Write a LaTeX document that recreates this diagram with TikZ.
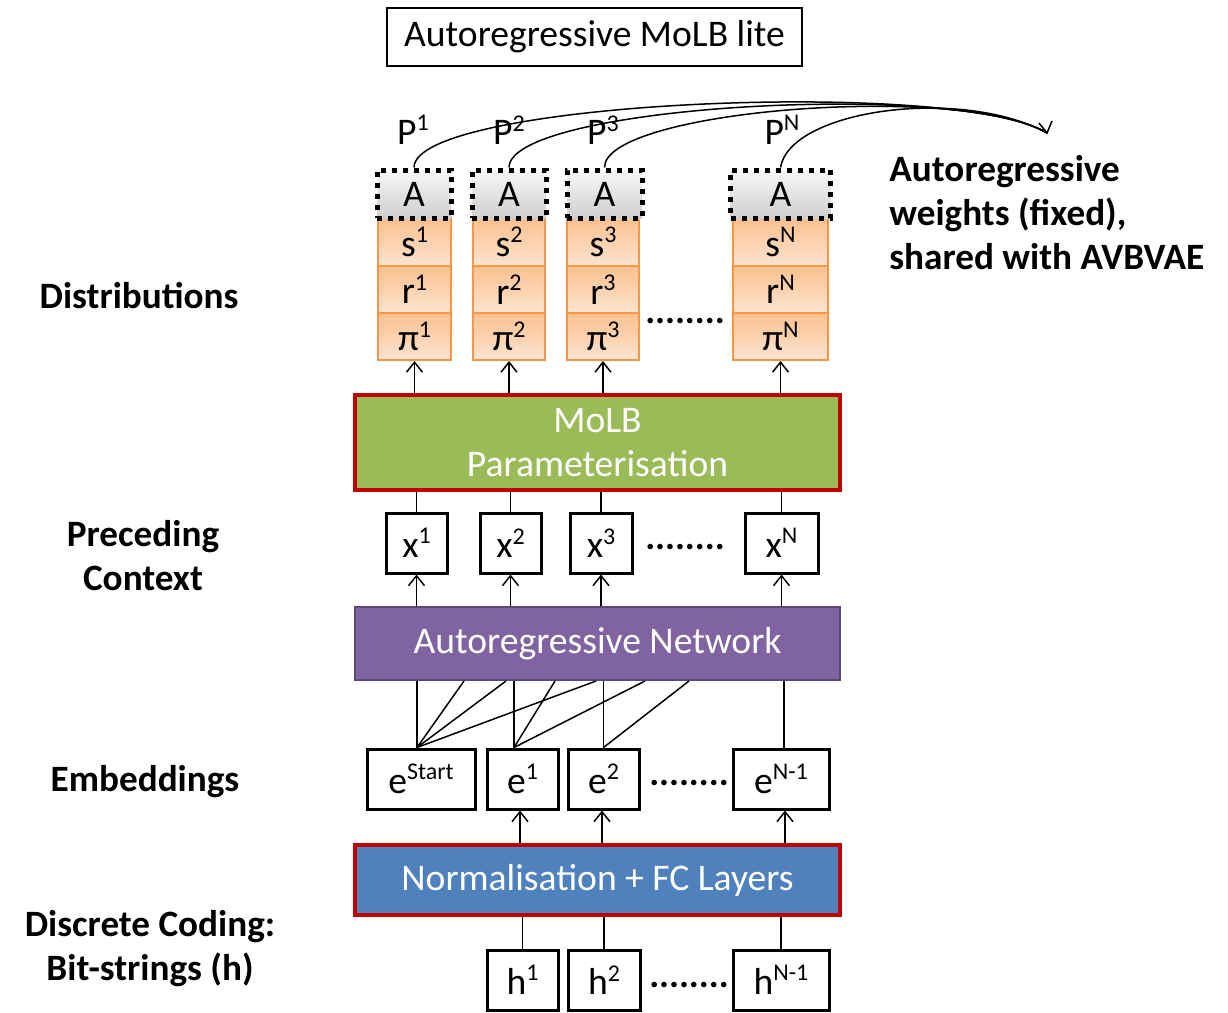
\documentclass[tikz,border=0pt]{standalone}
\usepackage{fontspec}
\setmainfont{Carlito}
\usetikzlibrary{arrows.meta,calc}
\newcommand\sps[1]{\raisebox{0.36em}{\fontsize{12}{12}\selectfont #1}}
\definecolor{orB}{HTML}{F79646}
\definecolor{orTop}{HTML}{FAC08F}
\definecolor{orBot}{HTML}{FDE4D0}
\definecolor{molbG}{HTML}{9BBB59}
\definecolor{redB}{HTML}{C00000}
\definecolor{purp}{HTML}{8064A2}
\definecolor{purpB}{HTML}{5C4776}
\definecolor{blueF}{HTML}{4F81BD}
\tikzset{
  every node/.style={font=\fontsize{18.8}{22}\selectfont, inner sep=0pt},
  titlebox/.style={draw, line width=0.75pt, minimum width=207.5pt, minimum height=29pt},
  wbox/.style={draw, line width=1.5pt, fill=white, minimum height=30pt},
  dist/.style={draw=orB, line width=1pt, top color=orTop, bottom color=orBot},
  abox/.style={draw, line width=2.5pt, dash pattern=on 2.5pt off 3pt, top color=gray!6, bottom color=gray!38, minimum height=24pt},
  bigbox/.style={minimum width=242.5pt, text=white, align=center},
  arr/.style={line width=0.75pt, -{Straight Barb[length=5pt,width=8pt]}},
  ln/.style={line width=0.75pt},
  lab/.style={font=\fontsize{18.6}{22}\selectfont\bfseries, align=center},
  dots/.style={font=\fontsize{18.6}{22}\selectfont\bfseries}
}
\begin{document}
\begin{tikzpicture}[x=0.5pt,y=-0.5pt]
\useasboundingbox (0,0) rectangle (1228,1013);
% title
\node[titlebox] (title) at (594.5,37) {Autoregressive MoLB lite};
% distribution boxes
\node[dist, minimum width=36.5pt, minimum height=24pt] (s1) at (414.5,242) {s\sps{1}};
\node[dist, minimum width=36.5pt, minimum height=23.5pt] (r1) at (414.5,289.5) {r\sps{1}};
\node[dist, minimum width=36.5pt, minimum height=23.5pt] (pi1) at (414.5,336.5) {π\sps{1}};
\node[dist, minimum width=36pt, minimum height=24pt] (s2) at (509,242) {s\sps{2}};
\node[dist, minimum width=36pt, minimum height=23.5pt] (r2) at (509,289.5) {r\sps{2}};
\node[dist, minimum width=36pt, minimum height=23.5pt] (pi2) at (509,336.5) {π\sps{2}};
\node[dist, minimum width=36pt, minimum height=24pt] (s3) at (603,242) {s\sps{3}};
\node[dist, minimum width=36pt, minimum height=23.5pt] (r3) at (603,289.5) {r\sps{3}};
\node[dist, minimum width=36pt, minimum height=23.5pt] (pi3) at (603,336.5) {π\sps{3}};
\node[dist, minimum width=47.5pt, minimum height=24pt] (sN) at (780.5,242) {s\sps{N}};
\node[dist, minimum width=47.5pt, minimum height=23.5pt] (rN) at (780.5,289.5) {r\sps{N}};
\node[dist, minimum width=47.5pt, minimum height=23.5pt] (piN) at (780.5,336.5) {π\sps{N}};
\node[dots] (d1) at (685,321) {........};
% A boxes
\node[abox, minimum width=37pt] (a1) at (414,194) {A};
\node[abox, minimum width=37pt] (a2) at (509,194) {A};
\node[abox, minimum width=37.5pt] (a3) at (604.5,194) {A};
\node[abox, minimum width=50pt] (aN) at (780.5,194) {A};
% P labels
\node (p1) at (413,130) {P\sps{1}};
\node (p2) at (509,130) {P\sps{2}};
\node (p3) at (603,130) {P\sps{3}};
\node (pN) at (782,130) {P\sps{N}};
% curves to shared weights
\coordinate (tip) at (1047,133);
\draw[ln] (a1.north) .. controls (414,100) and (960,78) .. (tip);
\draw[ln] (a2.north) .. controls (509,105) and (960,80) .. (tip);
\draw[ln] (a3.north) .. controls (604,110) and (960,82) .. (tip);
\draw[ln] (aN.north) .. controls (790,110) and (960,86) .. (tip);
\draw[ln, line join=miter] ($(tip)+(-8,-10)$) -- (tip) -- ($(tip)+(5,-12)$);
\node[lab, align=left, anchor=west] (aw) at (889,213) {Autoregressive\\weights (fixed),\\shared with AVBVAE};
% MoLB
\node[bigbox, fill=molbG, draw=redB, line width=2pt, minimum height=47.5pt] (molb) at (597.5,442.5) {MoLB\\Parameterisation};
% x boxes
\node[wbox, minimum width=30.5pt] (x1) at (416.5,543) {x\sps{1}};
\node[wbox, minimum width=30.5pt] (x2) at (510.5,543) {x\sps{2}};
\node[wbox, minimum width=31pt] (x3) at (601,543) {x\sps{3}};
\node[wbox, minimum width=36.5pt] (xN) at (781.5,543) {x\sps{N}};
\node[dots] (d2) at (685,547) {........};
% AR network
\node[bigbox, fill=purp, draw=purpB, line width=1pt, minimum height=36.5pt] (arn) at (597.5,643.5) {Autoregressive Network};
% e boxes
\node[wbox, minimum width=54pt] (eS) at (421,779) {e\sps{Start}};
\node[wbox, minimum width=35.5pt] (e1) at (522.5,779) {e\sps{1}};
\node[wbox, minimum width=35.5pt] (e2) at (603.5,779) {e\sps{2}};
\node[wbox, minimum width=48pt] (eN) at (781,779) {e\sps{N-1}};
\node[dots] (d3) at (689,783) {........};
% Normalisation
\node[bigbox, fill=blueF, draw=redB, line width=2pt, minimum height=35pt] (norm) at (597.5,880) {Normalisation + FC Layers};
% h boxes
\node[wbox, minimum width=35.5pt] (h1) at (522.5,980) {h\sps{1}};
\node[wbox, minimum width=36pt] (h2) at (604,980) {h\sps{2}};
\node[wbox, minimum width=48pt] (hN) at (781,980) {h\sps{N-1}};
\node[dots] (d4) at (689,985) {........};
% left labels
\node[lab] (l1) at (139,296) {Distributions};
\node[lab] (l2) at (143,556) {Preceding\\Context};
\node[lab] (l3) at (145,782) {Embeddings};
\node[lab] (l4) at (150,949) {Discrete Coding:\\Bit-strings (h)};
% MoLB -> pi
\draw[arr] (molb.north -| pi1) -- (pi1.south);
\draw[arr] (molb.north -| pi2) -- (pi2.south);
\draw[arr] (molb.north -| pi3) -- (pi3.south);
\draw[arr] (molb.north -| piN) -- (piN.south);
% x -> MoLB
\draw[ln] (x1.north) -- (x1.north |- molb.south);
\draw[ln] (x2.north) -- (x2.north |- molb.south);
\draw[ln] (x3.north) -- (x3.north |- molb.south);
\draw[ln] (xN.north) -- (xN.north |- molb.south);
% ARN -> x
\draw[arr] (x1.south |- arn.north) -- (x1.south);
\draw[arr] (x2.south |- arn.north) -- (x2.south);
\draw[arr] (x3.south |- arn.north) -- (x3.south);
\draw[arr] (xN.south |- arn.north) -- (xN.south);
% e -> ARN
\coordinate (eSa) at ([xshift=-2pt]eS.north);
\coordinate (e1a) at ([xshift=-4.25pt]e1.north);
\coordinate (e2a) at (e2.north);
\coordinate (eNa) at ([xshift=1.5pt]eN.north);
\draw[ln] (eSa) -- (eSa |- arn.south);
\draw[ln] (eSa) -- ($(arn.south west)+(110,0)$);
\draw[ln] (eSa) -- ($(arn.south west)+(152,0)$);
\draw[ln] (eSa) -- ($(arn.south west)+(242,0)$);
\draw[ln] (e1a) -- (e1a |- arn.south);
\draw[ln] (e1a) -- ($(arn.south west)+(201,0)$);
\draw[ln] (e1a) -- ($(arn.south west)+(291,0)$);
\draw[ln] (e2a) -- (e2a |- arn.south);
\draw[ln] (e2a) -- ($(arn.south west)+(335,0)$);
\draw[ln] (eNa) -- (eNa |- arn.south);
% norm -> e
\draw[arr] ([xshift=-1.25pt]e1.south |- norm.north) -- ([xshift=-1.25pt]e1.south);
\draw[arr] ([xshift=-0.75pt]e2.south |- norm.north) -- ([xshift=-0.75pt]e2.south);
\draw[arr] ([xshift=2pt]eN.south |- norm.north) -- ([xshift=2pt]eN.south);
% h -> norm
\draw[ln] (h1.north) -- (h1.north |- norm.south);
\draw[ln] (h2.north) -- (h2.north |- norm.south);
\draw[ln] (hN.north) -- (hN.north |- norm.south);
\end{tikzpicture}
\end{document}
